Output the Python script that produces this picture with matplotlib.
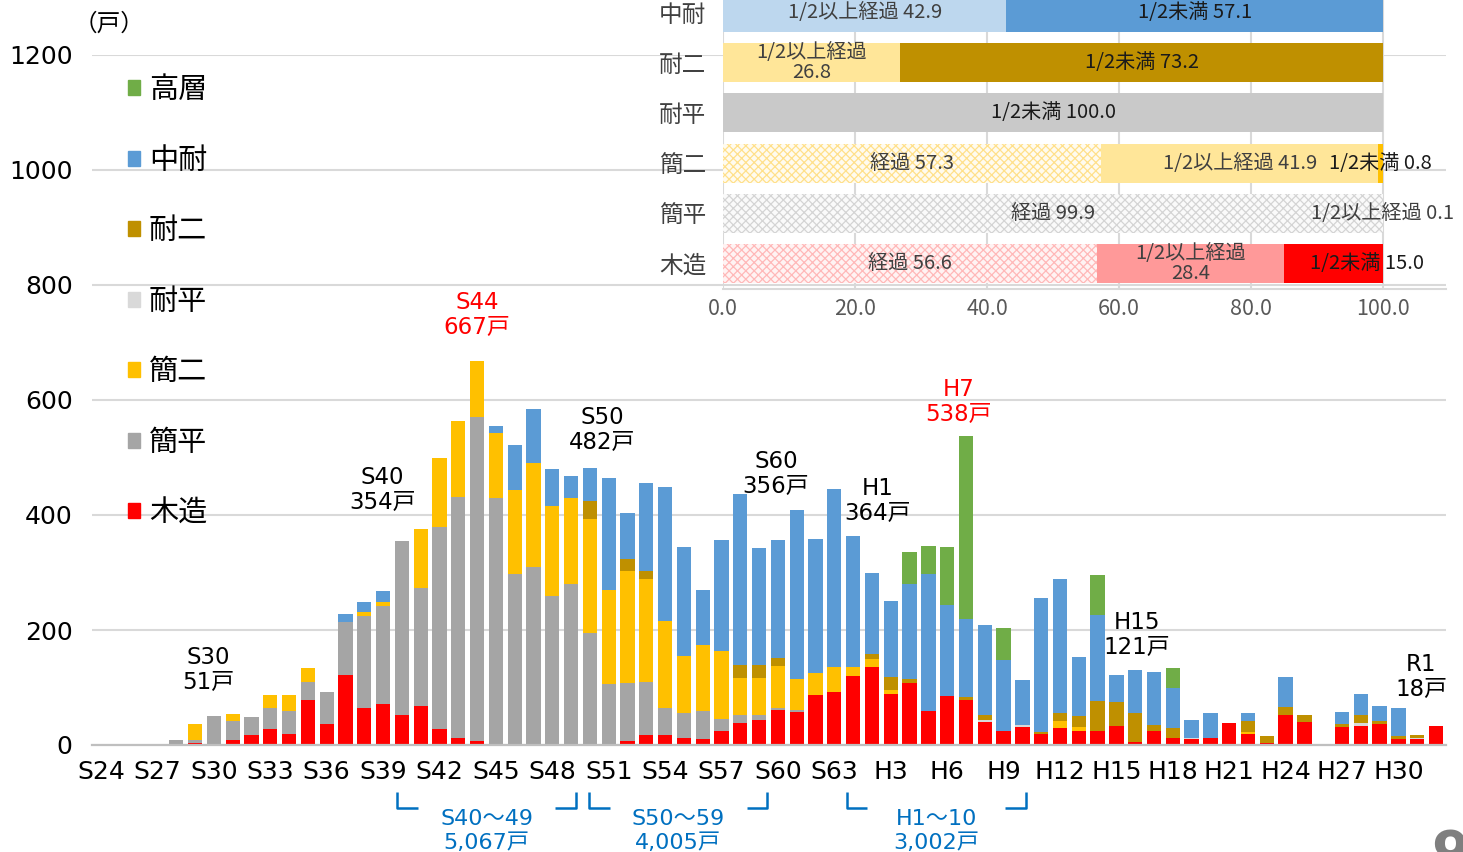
import matplotlib
matplotlib.use('Agg')
import matplotlib.pyplot as plt
import matplotlib.transforms as mtransforms
from matplotlib.patches import Patch
import numpy as np

# Latin/digits in DejaVu (Verdana-like), kanji falls back to Noto CJK JP
plt.rcParams['font.family'] = ['DejaVu Sans', 'Noto Sans CJK JP']
plt.rcParams['hatch.linewidth'] = 0.9
CJK = ['Noto Sans CJK JP', 'DejaVu Sans']

# ---- data: units built per year (S24 .. R2) ----
years = ['S24', 'S25', 'S26', 'S27', 'S28', 'S29', 'S30', 'S31', 'S32', 'S33',
         'S34', 'S35', 'S36', 'S37', 'S38', 'S39', 'S40', 'S41', 'S42', 'S43',
         'S44', 'S45', 'S46', 'S47', 'S48', 'S49', 'S50', 'S51', 'S52', 'S53',
         'S54', 'S55', 'S56', 'S57', 'S58', 'S59', 'S60', 'S61', 'S62', 'S63',
         'H1', 'H2', 'H3', 'H4', 'H5', 'H6', 'H7', 'H8', 'H9', 'H10',
         'H11', 'H12', 'H13', 'H14', 'H15', 'H16', 'H17', 'H18', 'H19', 'H20',
         'H21', 'H22', 'H23', 'H24', 'H25', 'H26', 'H27', 'H28', 'H29', 'H30',
         'R1', 'R2']

mokuzo = [0, 0, 2, 0, 0, 4, 0, 8, 18, 27,
          20, 79, 37, 122, 65, 72, 52, 68, 27, 12,
          7, 0, 0, 0, 0, 0, 0, 0, 7, 17,
          17, 13, 10, 24, 39, 44, 61, 57, 87, 92,
          120, 136, 89, 107, 60, 86, 79, 40, 24, 32,
          19, 29, 25, 25, 33, 6, 25, 13, 10, 13,
          39, 19, 3, 53, 40, 1, 31, 33, 37, 10,
          11, 33]
kanhei = [0, 0, 0, 0, 8, 4, 51, 34, 30, 38,
          40, 30, 55, 92, 159, 170, 302, 205, 352, 420,
          563, 430, 297, 310, 260, 280, 194, 106, 101, 93,
          47, 42, 49, 22, 14, 9, 4, 4, 0, 0,
          0, 0, 0, 0, 0, 0, 0, 0, 0, 0,
          0, 0, 0, 0, 0, 0, 0, 0, 0, 0,
          0, 0, 0, 0, 0, 0, 0, 0, 0, 0,
          0, 0]
kanni = [0, 0, 0, 0, 0, 29, 0, 12, 0, 22,
         27, 25, 0, 0, 7, 7, 0, 102, 120, 131,
         97, 113, 147, 181, 156, 149, 199, 164, 194, 179,
         152, 100, 115, 118, 64, 63, 72, 54, 38, 43,
         16, 14, 6, 0, 0, 0, 0, 0, 0, 0,
         0, 13, 6, 0, 0, 0, 0, 0, 0, 0,
         0, 4, 0, 0, 0, 0, 0, 0, 0, 0,
         0, 0]
taihei = [0, 0, 0, 0, 0, 0, 0, 0, 0, 0,
          0, 0, 0, 0, 0, 0, 0, 0, 0, 0,
          0, 0, 0, 0, 0, 0, 0, 0, 0, 0,
          0, 0, 0, 0, 0, 0, 0, 0, 0, 0,
          0, 0, 0, 0, 0, 0, 0, 4, 0, 3,
          0, 0, 0, 0, 0, 0, 0, 0, 3, 0,
          0, 0, 0, 0, 0, 0, 0, 6, 0, 0,
          1, 0]
taini = [0, 0, 0, 0, 0, 0, 0, 0, 0, 0,
         0, 0, 0, 0, 0, 0, 0, 0, 0, 0,
         0, 0, 0, 0, 0, 0, 32, 0, 21, 14,
         0, 0, 0, 0, 22, 24, 15, 0, 0, 0,
         0, 8, 23, 8, 0, 0, 5, 8, 0, 0,
         4, 13, 20, 52, 41, 49, 10, 16, 0, 0,
         0, 18, 13, 13, 13, 0, 5, 14, 4, 6,
         6, 0]
chutai = [0, 0, 0, 0, 0, 0, 0, 0, 0, 0,
          0, 0, 0, 13, 18, 18, 0, 0, 0, 0,
          0, 12, 78, 94, 64, 38, 57, 195, 80, 153,
          233, 190, 95, 193, 297, 203, 204, 294, 234, 311,
          228, 141, 132, 165, 237, 157, 135, 157, 124, 78,
          232, 233, 102, 149, 47, 75, 92, 70, 30, 42,
          0, 15, 0, 52, 0, 0, 21, 36, 27, 48,
          0, 0]
koso = [0, 0, 0, 0, 0, 0, 0, 0, 0, 0,
        0, 0, 0, 0, 0, 0, 0, 0, 0, 0,
        0, 0, 0, 0, 0, 0, 0, 0, 0, 0,
        0, 0, 0, 0, 0, 0, 0, 0, 0, 0,
        0, 0, 0, 56, 49, 101, 319, 0, 55, 0,
        0, 0, 0, 70, 0, 0, 0, 35, 0, 0,
        0, 0, 0, 0, 0, 0, 0, 0, 0, 0,
        0, 0]

# labelled years and period brackets
callout_years = ['S30', 'S40', 'S44', 'S50', 'S60', 'H1', 'H7', 'H15', 'R1']
periods = [('S40', 'S49', 'S40～49'), ('S50', 'S59', 'S50～59'), ('H1', 'H10', 'H1～10')]

# ---- inset data: share by elapsed durability (%) ----
inset_cats = ['木造', '簡平', '簡二', '耐平', '耐二', '中耐']
keika = [56.6, 99.9, 57.3, 0, 0, 0]
half_over = [28.4, 0.1, 41.9, 0, 26.8, 42.9]
half_under = [15.0, 0, 0.8, 100.0, 73.2, 57.1]

# ---- styles ----
series = [('木造', mokuzo, '#FF0000'), ('簡平', kanhei, '#A5A5A5'),
          ('簡二', kanni, '#FFC000'), ('耐平', taihei, '#D9D9D9'),
          ('耐二', taini, '#BF9000'), ('中耐', chutai, '#5B9BD5'),
          ('高層', koso, '#70AD47')]

W, H = 1463, 852
fig = plt.figure(figsize=(W / 100, H / 100), dpi=100)
ax = fig.add_axes([92 / W, 1 - 745 / H, (1446 - 92) / W, (745 - 55) / H])

x = np.arange(len(years))
bottom = np.zeros(len(years))
for name, vals, col in series:
    v = np.array(vals, dtype=float)
    ax.bar(x, v, 0.76, bottom=bottom, color=col, linewidth=0, zorder=3)
    bottom += v
totals = bottom

ax.set_xlim(-0.48, len(years) - 0.47)
ax.set_ylim(0, 1200)
ax.set_yticks(range(0, 1201, 200))
ax.set_xticks(x[::3])
ax.set_xticklabels(years[::3])
ax.tick_params(axis='y', length=0, pad=14, labelsize=18)
ax.tick_params(axis='x', length=0, pad=11, labelsize=18)
ax.grid(axis='y', color='#D9D9D9', linewidth=1.5, zorder=0)
for s in ['top', 'right', 'left']:
    ax.spines[s].set_visible(False)
ax.spines['bottom'].set_color('#BFBFBF')
ax.spines['bottom'].set_linewidth(1.6)
ax.spines['bottom'].set_zorder(4)

fig.text(109 / W, 1 - 24 / H, '（戸）', ha='center', va='center', fontsize=17, family=CJK)

# callouts over selected years
callout_pos = {'S30': (-0.31, 130), 'S40': (-1.05, 443), 'S44': (0.0, 748),
               'S50': (0.65, 548), 'S60': (-0.1, 472), 'H1': (1.28, 424),
               'H7': (-0.4, 597), 'H15': (1.1, 191), 'R1': (0.2, 118)}
for yr in callout_years:
    i = years.index(yr)
    dx, yy = callout_pos[yr]
    col = '#FF0000' if yr in ('S44', 'H7') else 'black'
    ax.text(i + dx, yy, f'{yr}\n{int(totals[i])}戸', ha='center', va='center',
            fontsize=16.5, color=col, linespacing=1.1, zorder=6)

# period brackets below the axis
trans = mtransforms.blended_transform_factory(ax.transData, ax.transAxes)
bracket_x = [(15.75, 25.27), (25.96, 35.43), (39.65, 49.2)]
y_top, y_low = -0.068, -0.091
for (a, b, lab), (xl, xr) in zip(periods, bracket_x):
    i0, i1 = years.index(a), years.index(b)
    tot = int(totals[i0:i1 + 1].sum())
    ax.plot([xl, xl, xl + 1.1], [y_top, y_low, y_low], color='#0070C0', lw=1.8,
            transform=trans, clip_on=False, solid_capstyle='butt')
    ax.plot([xr - 1.1, xr, xr], [y_low, y_low, y_top], color='#0070C0', lw=1.8,
            transform=trans, clip_on=False, solid_capstyle='butt')
    ax.text((xl + xr) / 2, -0.124, f'{lab}\n{tot:,}戸', ha='center', va='center',
            fontsize=16, color='#0070C0', linespacing=1.25, transform=trans)

# legend
handles = [Patch(color=col, label=name) for name, vals, col in series[::-1]]
fig.legend(handles=handles, loc='upper left', bbox_to_anchor=(128 / W, 1 - 75 / H),
           frameon=False, prop={'family': CJK, 'size': 21}, handlelength=0.42,
           handleheight=0.42, handletextpad=0.3, labelspacing=1.39, borderpad=0,
           borderaxespad=0)

# ---- inset ----
ax2 = fig.add_axes([723 / W, 1 - 288.6 / H, (1446 - 723) / W, (288.6 + 12.6) / H])
ax2.patch.set_alpha(0)
yy = np.arange(len(inset_cats))
hatch_face = {'木造': ('#FFF3F3', '#FFB8B8'), '簡平': ('#FAFAFA', '#D4D4D4'),
              '簡二': ('#FFFBEF', '#FFE08A')}
over_col = {'木造': '#FF9999', '簡平': '#ED7D31', '簡二': '#FFE699', '耐平': '#C9C9C9',
            '耐二': '#FFE699', '中耐': '#BDD7EE'}
under_col = {'木造': '#FF0000', '簡平': '#A5A5A5', '簡二': '#FFC000', '耐平': '#C9C9C9',
             '耐二': '#BF9000', '中耐': '#5B9BD5'}
for j, cat in enumerate(inset_cats):
    k, o, u = keika[j], half_over[j], half_under[j]
    if k > 0:
        fc, hc = hatch_face[cat]
        ax2.barh(j, k, 0.78, color=fc, edgecolor=hc, hatch='xxxx', linewidth=0, zorder=3)
    if o > 0:
        ax2.barh(j, o, 0.78, left=k, color=over_col[cat], linewidth=0, zorder=3)
    if u > 0:
        ax2.barh(j, u, 0.78, left=k + o, color=under_col[cat], linewidth=0, zorder=3)

# inset labels
shift = {('木造', 'u'): 5.0}
for j, cat in enumerate(inset_cats):
    k, o, u = keika[j], half_over[j], half_under[j]
    segs = [('k', k, 0, f'経過 {k:.1f}'), ('o', o, k, f'1/2以上経過 {o:.1f}'),
            ('u', u, k + o, f'1/2未満 {u:.1f}')]
    for key, w, left, txt in segs:
        if w <= 0:
            continue
        if key == 'o' and 10 < w < 35:
            txt = f'1/2以上経過\n{o:.1f}'
        col = '#1A1A1A' if key == 'u' else '#404040'
        xc = left + w / 2 + shift.get((cat, key), 0)
        ax2.text(xc, j, txt, ha='center', va='center', fontsize=14.5, color=col,
                 family=CJK, linespacing=0.95, zorder=5)

ax2.set_xlim(0, 109.5)
ax2.set_ylim(-0.5, len(inset_cats) - 0.5)
ax2.set_xticks(range(0, 101, 20))
ax2.set_xticklabels([f'{v:.1f}' for v in range(0, 101, 20)], family=CJK)
ax2.set_yticks(yy)
ax2.set_yticklabels(inset_cats, family=CJK)
ax2.tick_params(axis='x', length=0, pad=7, labelsize=15.5, labelcolor='#595959')
ax2.tick_params(axis='y', length=0, pad=12, labelsize=17, labelcolor='#404040')
ax2.grid(axis='x', color='#D9D9D9', linewidth=1.5, zorder=0)
for s in ['top', 'right', 'left']:
    ax2.spines[s].set_visible(False)
ax2.spines['bottom'].set_color('#D9D9D9')
ax2.spines['bottom'].set_linewidth(1.5)

# page number peeking in at the corner
fig.text(1450 / W, 1 - 828 / H, '9', ha='center', va='top', fontsize=40,
         fontweight='bold', color='#7F7F7F')

fig.savefig('out.png', dpi=100)
